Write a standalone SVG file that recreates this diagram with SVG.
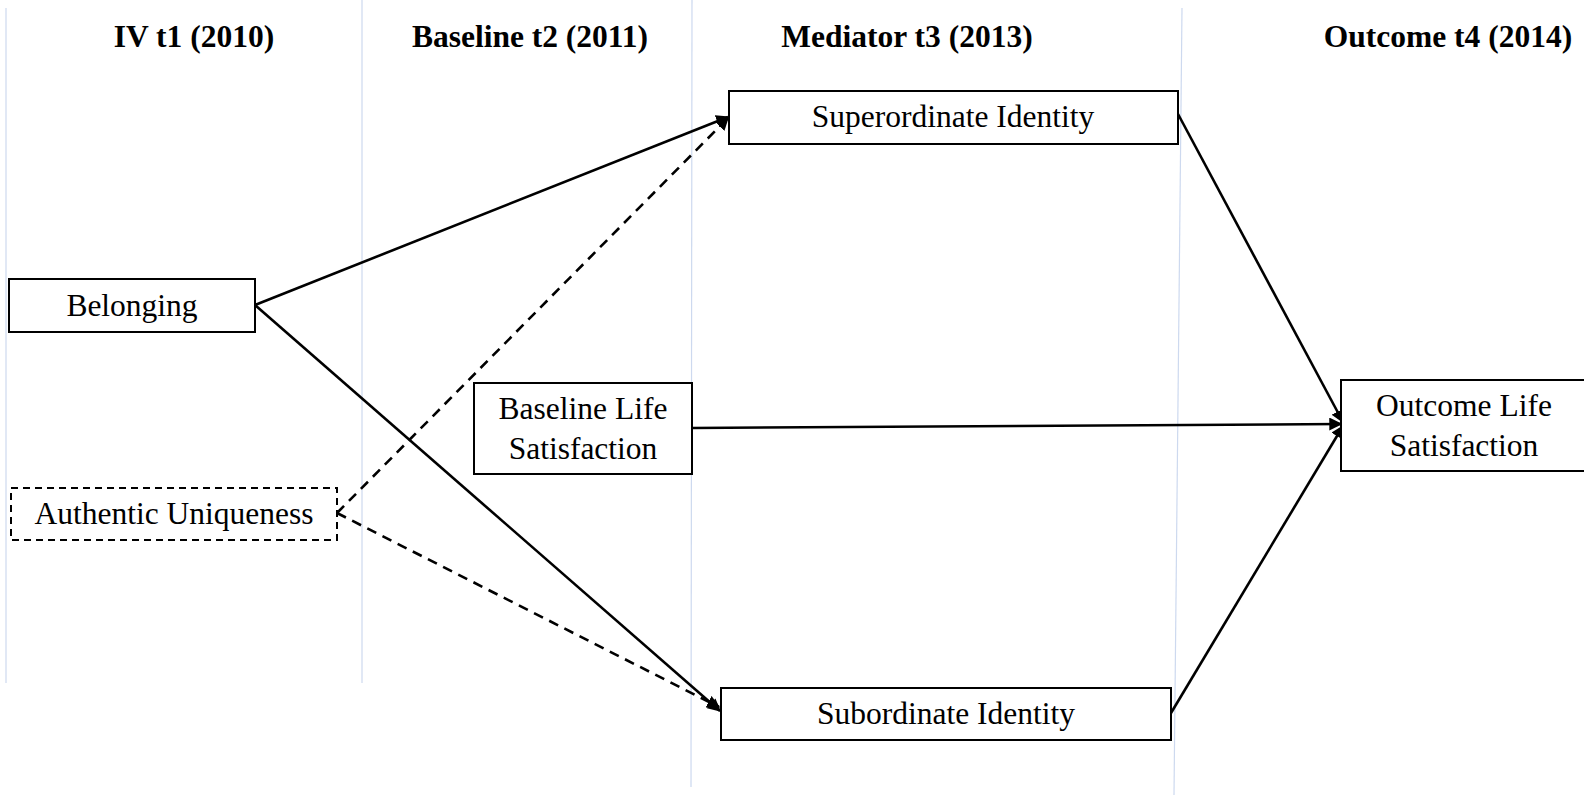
<svg xmlns="http://www.w3.org/2000/svg" width="1584" height="795" viewBox="0 0 1584 795">
  <defs>
    <style>
      .grid { stroke: #cdd9ef; stroke-width: 1.2; fill: none; }
      .hdr { font-family: "Liberation Serif", "Times New Roman", serif; font-weight: bold; font-size: 31.5px; fill: #000; text-anchor: middle; }
      .lbl { font-family: "Liberation Serif", "Times New Roman", serif; font-size: 31.5px; fill: #000; text-anchor: middle; }
      .box { fill: #fff; stroke: #000; stroke-width: 2; }
      .box-dash { fill: #fff; stroke: #000; stroke-width: 2; stroke-dasharray: 7 5; }
      .edge { stroke: #000; stroke-width: 2.6; fill: none; marker-end: url(#arrow); }
      .edge-dash { stroke: #000; stroke-width: 2.6; fill: none; stroke-dasharray: 10 7; marker-end: url(#arrow); }
    </style>
    <marker id="arrow" viewBox="0 0 10 10" refX="9" refY="5" markerWidth="5" markerHeight="5" markerUnits="strokeWidth" orient="auto">
      <path d="M0,0 L10,5 L0,10 z" fill="#000"/>
    </marker>
  </defs>

  <rect width="1584" height="795" fill="#fff"/>

  <!-- time-period column guides -->
  <g id="guides">
    <line class="grid" x1="6" y1="8" x2="6" y2="683"/>
    <line class="grid" x1="362" y1="0" x2="362" y2="683"/>
    <line class="grid" x1="692" y1="0" x2="691" y2="787"/>
    <line class="grid" x1="1182" y1="8" x2="1174" y2="795"/>
  </g>

  <!-- column headings -->
  <g id="headers">
    <text class="hdr" x="194" y="47">IV t1 (2010)</text>
    <text class="hdr" x="530" y="47">Baseline t2 (2011)</text>
    <text class="hdr" x="907" y="47">Mediator t3 (2013)</text>
    <text class="hdr" x="1448" y="47">Outcome t4 (2014)</text>
  </g>

  <!-- connectors -->
  <g id="connectors">
    <line class="edge" x1="255" y1="305" x2="728" y2="117"/>
    <line class="edge" x1="255" y1="305" x2="720" y2="711"/>
    <line class="edge-dash" x1="337" y1="513" x2="728" y2="118"/>
    <line class="edge-dash" x1="337" y1="513" x2="719" y2="707"/>
    <line class="edge" x1="692" y1="428" x2="1341" y2="424"/>
    <line class="edge" x1="1178" y1="114" x2="1343" y2="422"/>
    <line class="edge" x1="1171" y1="713" x2="1343" y2="426"/>
  </g>

  <g id="belonging">
    <rect class="box" x="9" y="279" width="246" height="53"/>
    <text class="lbl" x="132" y="316">Belonging</text>
  </g>

  <g id="authentic-uniqueness">
    <rect class="box-dash" x="11" y="488" width="326" height="52"/>
    <text class="lbl" x="174" y="524">Authentic Uniqueness</text>
  </g>

  <g id="baseline-life-satisfaction">
    <rect class="box" x="474" y="383" width="218" height="91"/>
    <text class="lbl" x="583" y="419">Baseline Life</text>
    <text class="lbl" x="583" y="459">Satisfaction</text>
  </g>

  <g id="superordinate-identity">
    <rect class="box" x="729" y="91" width="449" height="53"/>
    <text class="lbl" x="953" y="127">Superordinate Identity</text>
  </g>

  <g id="subordinate-identity">
    <rect class="box" x="721" y="688" width="450" height="52"/>
    <text class="lbl" x="946" y="724">Subordinate Identity</text>
  </g>

  <g id="outcome-life-satisfaction">
    <rect class="box" x="1341" y="380" width="260" height="91"/>
    <text class="lbl" x="1464" y="416">Outcome Life</text>
    <text class="lbl" x="1464" y="456">Satisfaction</text>
  </g>
</svg>
